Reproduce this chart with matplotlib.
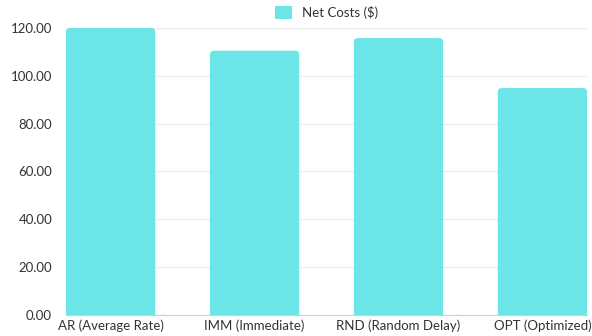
import matplotlib
matplotlib.use("Agg")
import matplotlib.pyplot as plt
from matplotlib.patches import FancyBboxPatch, Patch
from matplotlib.ticker import FormatStrFormatter

# data
categories = ["AR (Average Rate)", "IMM (Immediate)", "RND (Random Delay)", "OPT (Optimized)"]
net_costs = [120.0, 110.5, 115.8, 94.9]
series_name = "Net Costs ($)"

BAR_COLOR = "#6ce5e8"
TEXT_COLOR = "#333333"

plt.rcParams["font.family"] = ["Lato", "DejaVu Sans"]

fig = plt.figure(figsize=(5.92, 3.36), dpi=100)
ax = fig.add_axes([0.1115, 0.0625, 0.8801, 0.8542])

width = 0.62
x = list(range(len(categories)))
bars = ax.bar(x, net_costs, width=width, color=BAR_COLOR, zorder=2)

# swap the plain bars for ones with rounded top corners
rx = 0.028
ry = 1.7
for b in bars:
    x0, y0 = b.get_x(), b.get_y()
    w, h = b.get_width(), b.get_height()
    b.set_visible(False)
    p = FancyBboxPatch((x0, y0 - ry * 2), w, h + ry * 2,
                       boxstyle=f"round,pad=0,rounding_size={rx}",
                       mutation_aspect=ry / rx,
                       facecolor=BAR_COLOR, edgecolor="none", zorder=2)
    ax.add_patch(p)

ax.set_xlim(-width / 2, len(categories) - 1 + width / 2)
ax.set_ylim(0, 120)
ax.set_yticks(range(0, 121, 20))
ax.yaxis.set_major_formatter(FormatStrFormatter("%.2f"))
ax.set_xticks(x)
ax.set_xticklabels(categories)

ax.grid(axis="y", color="#ececec", linewidth=1, zorder=0)
for s in ["top", "right", "left"]:
    ax.spines[s].set_visible(False)
ax.spines["bottom"].set_color("#cfcfcf")
ax.spines["bottom"].set_zorder(3)
ax.axhline(120, color="#dddddd", linewidth=1, zorder=1)

ax.tick_params(axis="both", length=0, labelsize=9.5, colors=TEXT_COLOR)
ax.tick_params(axis="y", pad=10)
ax.tick_params(axis="x", pad=3)

handle = Patch(facecolor=BAR_COLOR, edgecolor="none", label=series_name)
leg = ax.legend(handles=[handle], loc="lower center", bbox_to_anchor=(0.5, 1.0), frameon=False,
                fontsize=9.5, handlelength=1.3, handleheight=1.1, handletextpad=0.7,
                borderaxespad=0.3)
for t in leg.get_texts():
    t.set_color(TEXT_COLOR)

fig.savefig("out.png", dpi=100)
